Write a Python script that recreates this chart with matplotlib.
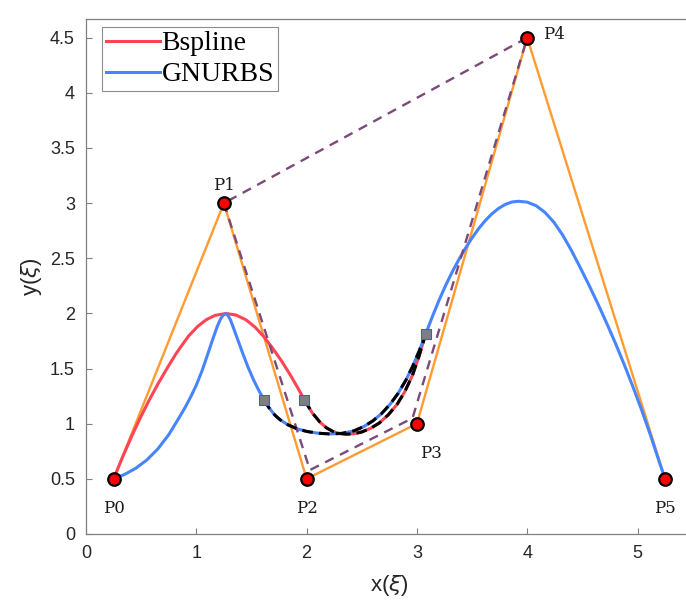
import numpy as np
import matplotlib.pyplot as plt

# control points
px = [0.25, 1.25, 2.0, 3.0, 4.0, 5.25]
py = [0.5, 3.0, 0.5, 1.0, 4.5, 0.5]
pnames = ["P0", "P1", "P2", "P3", "P4", "P5"]

# modified control polygon (dashed)
qx = [1.25, 2.03, 2.96, 4.0, 1.25]
qy = [3.0, 0.58, 1.05, 4.5, 3.0]

# B-spline curve (left part, right part lies under the GNURBS one)
rx = np.array([0.25, 0.33, 0.41, 0.49, 0.57, 0.65, 0.73, 0.81, 0.85, 0.93, 1.01, 1.09, 1.17, 1.27,
               1.36, 1.45, 1.53, 1.61, 1.69, 1.77, 1.85, 1.92, 1.98, 2.05, 2.12, 2.18, 2.24, 2.30,
               2.36, 2.43, 2.50, 2.58, 2.66, 2.74, 2.82, 2.89, 2.96, 3.02, 3.08])
ry = np.array([0.50, 0.694, 0.877, 1.049, 1.209, 1.357, 1.494, 1.625, 1.684, 1.795, 1.880, 1.943, 1.982, 2.0,
               1.985, 1.942, 1.878, 1.792, 1.687, 1.573, 1.445, 1.325, 1.215, 1.10, 1.015, 0.962, 0.929, 0.911,
               0.905, 0.909, 0.925, 0.958, 1.007, 1.08, 1.175, 1.29, 1.44, 1.615, 1.815])

# GNURBS curve
gx = np.array([0.25, 0.35, 0.45, 0.55, 0.65, 0.75, 0.85, 0.90, 0.95, 1.00, 1.05, 1.10, 1.15, 1.19,
               1.22, 1.245, 1.265, 1.285, 1.31, 1.34, 1.38, 1.42, 1.47, 1.52, 1.57, 1.614, 1.66,
               1.71, 1.76, 1.83, 1.91, 2.0, 2.1, 2.21, 2.32, 2.43, 2.52, 2.60, 2.68, 2.76, 2.83,
               2.90, 2.96, 3.02, 3.08, 3.14, 3.20, 3.26, 3.32, 3.38, 3.44, 3.50, 3.56, 3.62,
               3.68, 3.74, 3.80, 3.86, 3.92, 4.00, 4.08, 4.16, 4.24, 4.32, 4.40, 4.48, 4.56,
               4.64, 4.72, 4.80, 4.88, 4.96, 5.04, 5.12, 5.20, 5.25])
gy = np.array([0.5, 0.54, 0.595, 0.67, 0.77, 0.90, 1.065, 1.15, 1.245, 1.35, 1.475, 1.62, 1.77, 1.882,
               1.951, 1.986, 1.996, 1.985, 1.94, 1.86, 1.75, 1.64, 1.51, 1.395, 1.295, 1.215, 1.143,
               1.08, 1.035, 0.99, 0.955, 0.93, 0.914, 0.907, 0.912, 0.935, 0.975, 1.025, 1.092, 1.18, 1.276,
               1.395, 1.517, 1.658, 1.815, 1.971, 2.118, 2.253, 2.376, 2.488, 2.591, 2.685, 2.769, 2.842,
               2.903, 2.952, 2.988, 3.01, 3.017, 3.009, 2.977, 2.917, 2.829, 2.713, 2.573, 2.417, 2.257,
               2.089, 1.913, 1.729, 1.535, 1.331, 1.117, 0.889, 0.645, 0.5])

# end points of the local modification
sx = [1.614, 1.98, 3.08]
sy = [1.215, 1.215, 1.815]

fig = plt.figure(figsize=(6.86, 6.12), dpi=100)
ax = fig.add_axes([0.1254, 0.1275, 0.8843, 0.8415])

ax.plot(px, py, color='#FF9B2F', lw=1.7, zorder=2)
ax.plot(rx, ry, color='#FF4454', lw=2.2, zorder=3, label='Bspline')
ax.plot(gx, gy, color='#4785FF', lw=2.2, zorder=4, label='GNURBS')
ax.plot(qx, qy, color='#7B4A7B', lw=1.7, ls=(0, (4, 3)), zorder=5)

mr = (rx >= sx[1] - 1e-6) & (rx <= sx[2] + 1e-6)
mg = (gx >= sx[0] - 1e-6) & (gx <= sx[2] + 1e-6)
ax.plot(rx[mr], ry[mr], color='black', lw=2.2, ls=(0, (3.5, 2)), zorder=6)
ax.plot(gx[mg], gy[mg], color='black', lw=2.2, ls=(0, (3.5, 2)), zorder=6)

ax.plot(sx, sy, ls='none', marker='s', ms=7, mfc='#7F7F7F', mec='#5050F0', mew=0.8, zorder=7)
ax.plot(px, py, ls='none', marker='o', ms=9, mfc='#FF0000', mec='black', mew=1.6, zorder=8)

# point labels
offs = [(0.0, -0.27), (0.0, 0.16), (0.0, -0.27), (0.13, -0.27), (0.24, 0.03), (0.0, -0.27)]
for n, x, y, (dx, dy) in zip(pnames, px, py, offs):
    ax.text(x + dx, y + dy, n, family='DejaVu Serif', fontsize=12, color='#1a1a1a',
            ha='center', va='center', zorder=9)

ax.set_xlim(0, 5.5)
ax.set_ylim(0, 4.67)
ax.set_xticks([0, 1, 2, 3, 4, 5])
ax.set_yticks([0, 0.5, 1, 1.5, 2, 2.5, 3, 3.5, 4, 4.5])
ax.set_yticklabels(['0', '0.5', '1', '1.5', '2', '2.5', '3', '3.5', '4', '4.5'])
ax.tick_params(direction='in', length=4, width=0.8, color='#808080', labelsize=13,
               labelcolor='#262626', pad=8)
for sp in ax.spines.values():
    sp.set_color('#808080')
    sp.set_linewidth(0.9)
for lab in ax.get_xticklabels() + ax.get_yticklabels():
    lab.set_family('Liberation Sans')

ax.set_xlabel(r'x($\xi$)', fontsize=16, family='Liberation Sans', color='#262626', labelpad=8)
ax.set_ylabel(r'y($\xi$)', fontsize=16, family='Liberation Sans', color='#262626', labelpad=4)

leg = ax.legend(loc='upper left', bbox_to_anchor=(0.026, 0.985), prop={'family': 'Liberation Serif', 'size': 20},
                frameon=True, fancybox=False, framealpha=1, edgecolor='#8c8c8c',
                borderpad=0.15, labelspacing=0.2, handlelength=1.95, handletextpad=0.05,
                borderaxespad=0)
leg.get_frame().set_linewidth(0.8)

fig.savefig('out.png', dpi=100)
